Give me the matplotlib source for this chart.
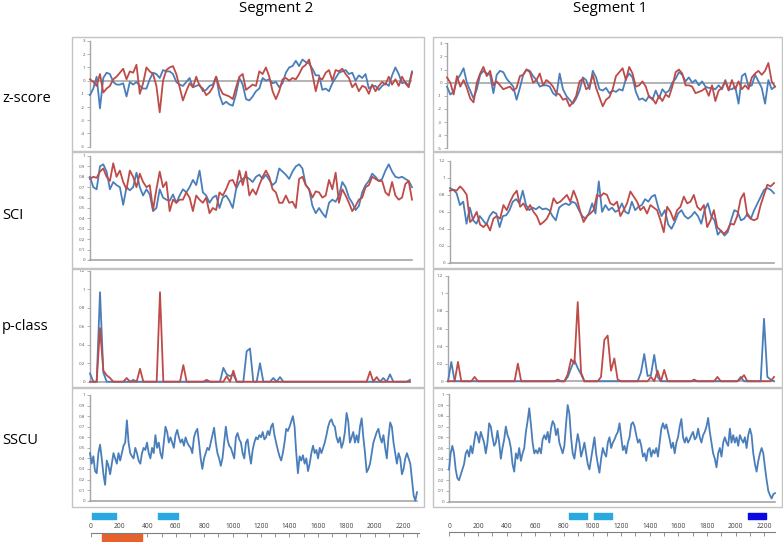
import numpy as np
import matplotlib
matplotlib.use('Agg')
import matplotlib.pyplot as plt
from matplotlib.patches import Rectangle

plt.rcParams['font.family'] = ['Open Sans', 'DejaVu Sans']

W, H = 783, 542
BLUE = '#4a7ebb'
RED = '#be4b48'
GRID = '#a6a6a6'

# ---- data ----
seg2_len = 2290
seg1_len = 2270

# z-score, segment 2
z2_blue = [-1.1,-0.6,0.3,-2.1,0.2,0.6,0.5,-0.1,-0.3,-0.3,-0.2,-1.2,-0.1,-0.3,-0.1,-0.4,-0.6,-0.6,0.1,0.6,
           0.5,0.2,0.8,0.7,0.7,0.5,-0.1,-0.3,-0.4,-0.1,0.2,-0.5,-0.4,-0.3,-0.8,-0.7,-0.4,-0.3,0.3,-1.1,
           -1.8,-1.6,-1.8,-1.9,-1.0,0.2,-0.3,-1.4,-1.5,-1.2,-0.8,-0.6,0.2,0.0,0.1,-0.2,-0.1,-0.5,-0.2,0.6,
           1.0,1.1,1.5,1.1,1.6,1.4,1.3,0.9,0.4,0.4,-0.7,-0.6,-0.8,-0.2,0.2,0.6,0.7,0.8,0.5,0.6,
           0.0,0.4,0.2,0.5,-0.6,-0.4,-0.4,-0.7,-0.4,-0.2,-0.4,0.4,1.0,0.5,-0.2,-0.1,-0.4,0.7]
z2_red = [0.1,-0.1,-0.4,0.5,-0.9,-0.6,-0.4,0.1,0.3,0.6,0.9,0.1,0.7,0.6,1.2,-1.0,-0.2,1.0,0.7,0.5,
          -0.4,-2.4,0.0,0.8,1.0,1.1,0.5,-0.5,-1.5,-0.8,-0.2,-0.5,0.3,-0.4,-0.6,-1.1,-0.9,-0.5,0.3,-0.5,
          -1.0,-1.1,-1.2,-1.4,-0.5,0.3,0.5,-0.7,-0.5,-0.3,-0.4,0.7,0.5,1.0,0.3,-0.8,-1.4,-0.8,0.1,0.2,
          0.0,0.2,0.1,0.5,1.0,1.2,1.6,0.5,-0.8,0.2,0.1,0.6,0.8,0.0,0.8,0.7,0.9,0.5,0.2,-0.5,
          -0.2,-0.8,-0.4,-0.5,-1.0,-0.3,-0.8,-0.4,-0.1,-0.3,0.3,-0.3,0.1,-0.4,0.3,-0.2,-0.5,0.6]

# z-score, segment 1
z1_blue = [-0.3,-0.9,-0.7,0.2,0.6,1.1,0.0,-0.6,-1.2,-0.5,0.6,0.9,0.7,0.6,-0.8,0.6,0.9,0.8,0.3,0.0,
           -0.3,-1.3,-0.4,0.6,1.0,0.9,0.5,0.2,-0.3,-0.2,-0.2,-0.3,-0.8,-1.0,0.7,-0.5,-1.0,-1.3,-1.6,-1.2,
           -0.6,0.4,0.2,-0.5,0.9,0.4,-0.5,-0.6,-0.4,-0.8,-0.6,-0.7,-0.5,-0.6,0.3,0.7,0.4,-0.7,-1.3,-1.2,
           -1.4,-1.0,-1.3,-0.6,-1.2,-0.5,-0.8,-0.6,0.0,0.3,0.8,0.6,0.1,0.4,0.0,0.2,-0.2,0.1,-0.3,-0.4,
           -0.4,-0.5,-0.2,-0.5,0.2,-0.5,-0.5,-0.3,-1.6,0.5,0.7,-0.3,-0.2,0.6,0.1,-0.4,-1.6,0.2,-0.5,-0.3]
z1_red = [0.4,0.0,-0.9,0.5,-0.3,0.2,-0.4,-1.2,-1.5,0.0,0.7,1.2,0.5,0.9,-0.2,0.1,-0.2,-0.5,-0.4,-0.3,
          -0.6,-0.4,0.5,0.6,1.0,0.8,0.0,0.2,0.7,-0.2,0.2,0.0,-0.3,-0.8,-0.9,-1.3,-1.2,-1.8,-1.5,-1.0,
          0.1,0.3,-0.5,-0.3,0.6,-0.4,-1.1,-1.8,-1.3,-1.1,-0.5,0.5,0.8,1.1,0.2,1.2,0.7,-0.3,-0.2,0.1,
          -0.3,-1.1,-1.2,-1.6,-1.0,-1.4,-0.9,-1.1,-0.3,0.8,1.0,0.7,-0.2,-0.2,-0.3,-0.8,-0.7,-0.6,-0.4,-1.0,
          -0.2,-1.4,-0.6,-0.4,0.1,-0.6,0.2,-0.5,0.1,-0.5,-0.2,-0.5,0.4,0.7,0.9,0.6,0.9,1.5,0.1,-0.3]

# SCI
sci2_blue = [0.80,0.70,0.68,0.90,0.92,0.85,0.68,0.75,0.72,0.70,0.53,0.70,0.67,0.70,0.84,0.70,0.62,0.68,0.63,0.47,
             0.50,0.68,0.60,0.58,0.57,0.63,0.55,0.62,0.68,0.65,0.70,0.77,0.72,0.86,0.65,0.62,0.55,0.60,0.62,0.50,
             0.60,0.62,0.57,0.50,0.68,0.75,0.78,0.80,0.78,0.75,0.80,0.82,0.78,0.82,0.77,0.72,0.75,0.88,0.85,0.82,
             0.78,0.85,0.90,0.92,0.88,0.72,0.68,0.52,0.45,0.50,0.45,0.41,0.55,0.58,0.56,0.62,0.75,0.70,0.60,0.55,
             0.48,0.52,0.65,0.72,0.76,0.83,0.80,0.76,0.78,0.86,0.92,0.85,0.80,0.79,0.80,0.78,0.76,0.70]
sci2_red = [0.78,0.80,0.79,0.85,0.88,0.80,0.76,0.93,0.80,0.86,0.75,0.68,0.86,0.80,0.70,0.83,0.75,0.70,0.72,0.48,
            0.68,0.85,0.70,0.75,0.47,0.58,0.55,0.58,0.58,0.65,0.60,0.47,0.62,0.58,0.55,0.60,0.45,0.50,0.48,0.65,
            0.62,0.68,0.76,0.77,0.70,0.86,0.72,0.85,0.62,0.68,0.63,0.72,0.80,0.86,0.80,0.68,0.65,0.55,0.55,0.62,
            0.55,0.56,0.50,0.78,0.80,0.72,0.68,0.60,0.66,0.65,0.60,0.62,0.77,0.68,0.84,0.55,0.68,0.62,0.55,0.47,
            0.52,0.58,0.60,0.70,0.72,0.80,0.78,0.76,0.76,0.65,0.62,0.75,0.62,0.58,0.60,0.73,0.76,0.58]
sci1_blue = [0.88,0.86,0.82,0.68,0.72,0.46,0.65,0.50,0.46,0.55,0.50,0.45,0.55,0.60,0.58,0.42,0.55,0.56,0.62,0.72,
             0.75,0.70,0.85,0.68,0.62,0.65,0.63,0.66,0.63,0.64,0.62,0.55,0.50,0.65,0.68,0.70,0.68,0.72,0.70,0.62,
             0.55,0.52,0.58,0.70,0.58,0.96,0.60,0.68,0.62,0.65,0.60,0.62,0.70,0.60,0.58,0.72,0.62,0.66,0.68,0.75,
             0.72,0.78,0.80,0.65,0.55,0.62,0.45,0.40,0.48,0.58,0.62,0.55,0.52,0.55,0.60,0.55,0.46,0.62,0.70,0.55,
             0.50,0.33,0.38,0.32,0.36,0.50,0.62,0.60,0.50,0.52,0.58,0.52,0.62,0.70,0.78,0.86,0.88,0.86,0.82]
sci1_red = [0.85,0.86,0.85,0.90,0.86,0.80,0.48,0.52,0.60,0.45,0.42,0.46,0.38,0.52,0.55,0.52,0.68,0.62,0.72,0.80,
            0.85,0.66,0.70,0.62,0.68,0.60,0.55,0.45,0.48,0.52,0.60,0.76,0.70,0.72,0.76,0.80,0.72,0.85,0.75,0.60,
            0.48,0.55,0.58,0.62,0.80,0.78,0.82,0.80,0.70,0.68,0.72,0.55,0.62,0.70,0.84,0.78,0.72,0.62,0.66,0.58,
            0.68,0.65,0.62,0.50,0.36,0.66,0.60,0.50,0.62,0.66,0.78,0.70,0.72,0.80,0.66,0.62,0.68,0.42,0.50,0.62,
            0.42,0.38,0.34,0.38,0.46,0.45,0.55,0.75,0.82,0.56,0.52,0.50,0.52,0.68,0.80,0.92,0.90,0.94]

# p-class
p2_blue = [0.09,0,0,0.97,0.10,0,0,0,0,0,0,0,0,0.02,0,0,0,0,0,0,
           0,0,0,0,0,0,0,0,0,0,0,0,0,0,0,0,0,0,0,0,
           0.15,0.08,0.06,0.08,0,0,0,0.33,0.36,0,0,0.20,0,0,0,0.04,0,0.05,0,0,
           0,0,0,0,0,0,0,0,0,0,0,0,0,0,0,0,0,0,0,0,
           0,0,0,0,0,0,0,0,0.04,0,0.08,0,0,0,0,0,0.02]
p2_red = [0,0,0,0.58,0.12,0.07,0.04,0,0,0,0,0.04,0,0,0,0.14,0,0,0,0,
          0,0.97,0,0,0,0,0,0,0.18,0,0,0,0,0,0,0.02,0,0,0,0,
          0,0.06,0,0.12,0,0,0,0,0,0,0,0,0,0,0,0,0,0,0,0,
          0,0,0,0,0,0,0,0,0,0,0,0,0,0,0,0,0,0,0,0,
          0,0,0,0,0.11,0,0.05,0,0,0,0,0,0,0,0,0,0]
p1_blue = [0,0.22,0,0,0,0,0,0,0,0,0,0,0,0,0,0,0,0,0,0,
           0,0,0,0,0,0,0,0,0,0,0,0,0,0,0,0,0.05,0.15,0.24,0.15,
           0.08,0,0,0,0,0,0,0,0,0,0,0,0,0,0,0,0,0,0.10,0.31,
           0.06,0.07,0.30,0.05,0,0,0,0,0,0,0,0,0,0,0,0,0,0,0,0,
           0,0,0,0,0,0,0,0,0.05,0,0,0,0,0,0,0.71,0.05,0.02,0]
p1_red = [0,0,0,0.22,0,0,0,0,0.05,0,0,0,0,0,0,0,0,0,0,0,
          0,0.20,0,0,0,0,0,0,0,0,0,0,0,0.02,0,0,0.08,0.25,0.20,0.90,
          0.10,0,0,0,0,0,0.05,0.47,0.52,0.12,0.26,0.02,0,0,0,0,0,0,0,0,
          0,0.05,0,0.12,0,0.13,0,0,0,0,0,0,0,0,0.02,0,0,0,0,0,
          0,0.05,0,0,0,0,0,0,0.03,0.07,0,0,0,0,0,0,0,0,0.05]

# SSCU
sscu2 = [0.45,0.35,0.42,0.28,0.26,0.45,0.53,0.40,0.25,0.15,0.38,0.33,0.25,0.35,0.45,0.40,0.35,0.45,0.38,0.45,
         0.52,0.55,0.76,0.55,0.45,0.42,0.40,0.50,0.45,0.38,0.35,0.45,0.50,0.48,0.55,0.45,0.40,0.50,0.45,0.62,
         0.50,0.55,0.45,0.40,0.55,0.70,0.65,0.55,0.60,0.55,0.50,0.62,0.67,0.60,0.55,0.58,0.52,0.60,0.55,0.52,
         0.50,0.45,0.60,0.65,0.68,0.55,0.40,0.30,0.40,0.45,0.50,0.48,0.55,0.62,0.69,0.55,0.45,0.40,0.33,0.40,
         0.55,0.70,0.58,0.52,0.50,0.45,0.40,0.60,0.64,0.58,0.55,0.45,0.40,0.55,0.58,0.45,0.35,0.48,0.55,0.60,
         0.58,0.62,0.60,0.65,0.58,0.60,0.66,0.62,0.70,0.73,0.62,0.55,0.48,0.42,0.38,0.45,0.55,0.68,0.66,0.70,
         0.75,0.80,0.70,0.45,0.26,0.42,0.38,0.43,0.35,0.40,0.28,0.35,0.45,0.52,0.45,0.48,0.40,0.50,0.45,0.50,
         0.55,0.62,0.70,0.75,0.77,0.72,0.70,0.60,0.55,0.60,0.50,0.55,0.65,0.83,0.75,0.55,0.60,0.65,0.55,0.62,
         0.55,0.70,0.78,0.60,0.45,0.27,0.30,0.35,0.45,0.55,0.60,0.65,0.68,0.60,0.55,0.62,0.50,0.40,0.60,0.74,
         0.70,0.55,0.45,0.35,0.45,0.40,0.25,0.30,0.40,0.45,0.40,0.35,0.20,0.05,0.00,0.08]
sscu1 = [0.30,0.45,0.52,0.45,0.30,0.22,0.20,0.25,0.30,0.35,0.45,0.48,0.42,0.52,0.45,0.55,0.65,0.62,0.55,0.65,
         0.60,0.55,0.45,0.55,0.73,0.70,0.60,0.52,0.55,0.66,0.55,0.40,0.50,0.58,0.70,0.62,0.58,0.50,0.35,0.28,
         0.45,0.40,0.50,0.38,0.45,0.50,0.65,0.75,0.87,0.72,0.55,0.45,0.48,0.45,0.50,0.45,0.58,0.62,0.58,0.65,
         0.55,0.68,0.75,0.72,0.62,0.68,0.55,0.50,0.45,0.52,0.72,0.90,0.82,0.60,0.45,0.40,0.52,0.63,0.55,0.42,
         0.48,0.55,0.45,0.35,0.30,0.40,0.50,0.60,0.45,0.35,0.27,0.40,0.50,0.45,0.42,0.55,0.60,0.50,0.55,0.58,
         0.62,0.65,0.73,0.60,0.48,0.52,0.45,0.55,0.60,0.72,0.74,0.70,0.62,0.55,0.58,0.52,0.42,0.45,0.38,0.48,
         0.50,0.42,0.48,0.45,0.50,0.42,0.55,0.68,0.73,0.68,0.72,0.65,0.58,0.50,0.55,0.45,0.55,0.60,0.70,0.77,
         0.60,0.55,0.60,0.55,0.58,0.62,0.65,0.58,0.60,0.68,0.60,0.55,0.62,0.65,0.70,0.78,0.65,0.55,0.45,0.40,
         0.32,0.45,0.50,0.42,0.55,0.60,0.55,0.52,0.68,0.55,0.62,0.55,0.60,0.52,0.62,0.58,0.55,0.60,0.50,0.62,
         0.68,0.62,0.45,0.35,0.28,0.38,0.45,0.50,0.45,0.32,0.20,0.10,0.06,0.03,0.07,0.08]

# feature tracks under the x axis (start, end)
seg2_blue_bars = [(11, 178), (476, 617)]
seg2_orange_bars = [(77, 359)]
seg1_blue_bars = [(836, 960), (1010, 1134)]
seg1_dark_bars = [(2088, 2210)]

row_names = ['z-score', 'SCI', 'p-class', 'SSCU']


def pbox(x0, y0, x1, y1):
    return [x0 / W, 1 - y1 / H, (x1 - x0) / W, (y1 - y0) / H]


fig = plt.figure(figsize=(W / 100, H / 100), dpi=100)

# panel frames
rows_y = [(37, 151), (152, 268), (268.5, 387), (387.5, 507)]
for (x0, x1) in [(72, 424), (433, 782)]:
    for (y0, y1) in rows_y:
        fig.add_artist(Rectangle((x0 / W, 1 - y1 / H), (x1 - x0) / W, (y1 - y0) / H,
                                 transform=fig.transFigure, fill=False, ec='#c3c3c3', lw=1.0))


def style(ax, ylim, step, bottom=True):
    ax.set_ylim(*ylim)
    ticks = np.round(np.arange(ylim[0], ylim[1] + step / 2, step), 2)
    ax.set_yticks(ticks)
    ax.set_yticklabels(['%g' % t for t in ticks])
    ax.set_xticks([])
    for s in ['top', 'right']:
        ax.spines[s].set_visible(False)
    ax.spines['left'].set_color(GRID)
    ax.spines['left'].set_linewidth(1.0)
    ax.spines['bottom'].set_visible(bottom)
    ax.spines['bottom'].set_color(GRID)
    ax.spines['bottom'].set_linewidth(1.2)
    ax.tick_params(axis='y', labelsize=3.2, length=2, width=0.6, color=GRID,
                   labelcolor='#555555', pad=1.5)
    ax.patch.set_alpha(0)


def line(ax, y, length, color):
    x = np.linspace(0, length, len(y))
    ax.plot(x, y, color=color, lw=1.3, solid_joinstyle='round', zorder=3, clip_on=False)
    ax.set_xlim(0, length)


cols = [
    dict(L=seg2_len, z=(z2_blue, z2_red), sci=(sci2_blue, sci2_red), p=(p2_blue, p2_red), s=sscu2,
         boxes=[(90, 41, 412, 146.7), (90, 156, 412, 260), (90, 271, 410, 381.7), (90, 395, 417, 500.7)],
         sci_lim=(0, 1), sci_step=0.1),
    dict(L=seg1_len, z=(z1_blue, z1_red), sci=(sci1_blue, sci1_red), p=(p1_blue, p1_red), s=sscu1,
         boxes=[(447, 43.3, 775, 148.3), (450, 161, 774, 262.7), (448, 275.7, 774, 381.3), (449, 394.3, 775, 501.7)],
         sci_lim=(0, 1.2), sci_step=0.2),
]

for c in cols:
    b = c['boxes']
    ax = fig.add_axes(pbox(*b[0]))
    style(ax, (-5, 3), 1, bottom=False)
    ax.axhline(0, color=GRID, lw=1.2, zorder=1)
    line(ax, c['z'][0], c['L'], BLUE)
    line(ax, c['z'][1], c['L'], RED)

    ax = fig.add_axes(pbox(*b[1]))
    style(ax, c['sci_lim'], c['sci_step'])
    line(ax, c['sci'][0], c['L'], BLUE)
    line(ax, c['sci'][1], c['L'], RED)

    ax = fig.add_axes(pbox(*b[2]))
    style(ax, (0, 1.2), 0.2)
    line(ax, c['p'][0], c['L'], BLUE)
    line(ax, c['p'][1], c['L'], RED)

    ax = fig.add_axes(pbox(*b[3]))
    style(ax, (0, 1), 0.1)
    line(ax, c['s'], c['L'], BLUE)


# position tracks
def track(x0, x1, xmax, line_y, blue, other, other_color, other_y):
    ax = fig.add_axes(pbox(x0, 508, x1, 542))
    ax.set_xlim(0, xmax)
    ax.set_ylim(542, 508)
    ax.axis('off')
    ax.broken_barh([(s, e - s) for s, e in blue], (513, 6), color='#29a9df')
    ax.broken_barh([(s, e - s) for s, e in other], other_y, color=other_color)
    ax.plot([0, xmax], [line_y, line_y], color='#7f7f7f', lw=0.8)
    minor = np.arange(0, xmax + 1, 100)
    ax.vlines(minor, line_y, line_y + 4, color='#7f7f7f', lw=0.6)
    for t in np.arange(0, xmax + 1, 200):
        ax.text(t, line_y - 2.5, '%d' % t, ha='center', va='bottom', fontsize=4.8, color='#404040')


track(90.7, 420.1, 2320, 533, seg2_blue_bars, seg2_orange_bars, '#e8612c', (534, 7))
track(449.3, 775.8, 2280, 532, seg1_blue_bars, seg1_dark_bars, '#0a0ae0', (513, 6))

fig.text(276 / W, 1 - 9 / H, 'Segment 2', ha='center', va='center', fontsize=10.8)
fig.text(610 / W, 1 - 9 / H, 'Segment 1', ha='center', va='center', fontsize=10.8)
for name, yc in zip(row_names, [98, 216, 327, 440]):
    fig.text(2 / W, 1 - yc / H, name, ha='left', va='center', fontsize=10.5)

fig.savefig('out.png', dpi=100)
